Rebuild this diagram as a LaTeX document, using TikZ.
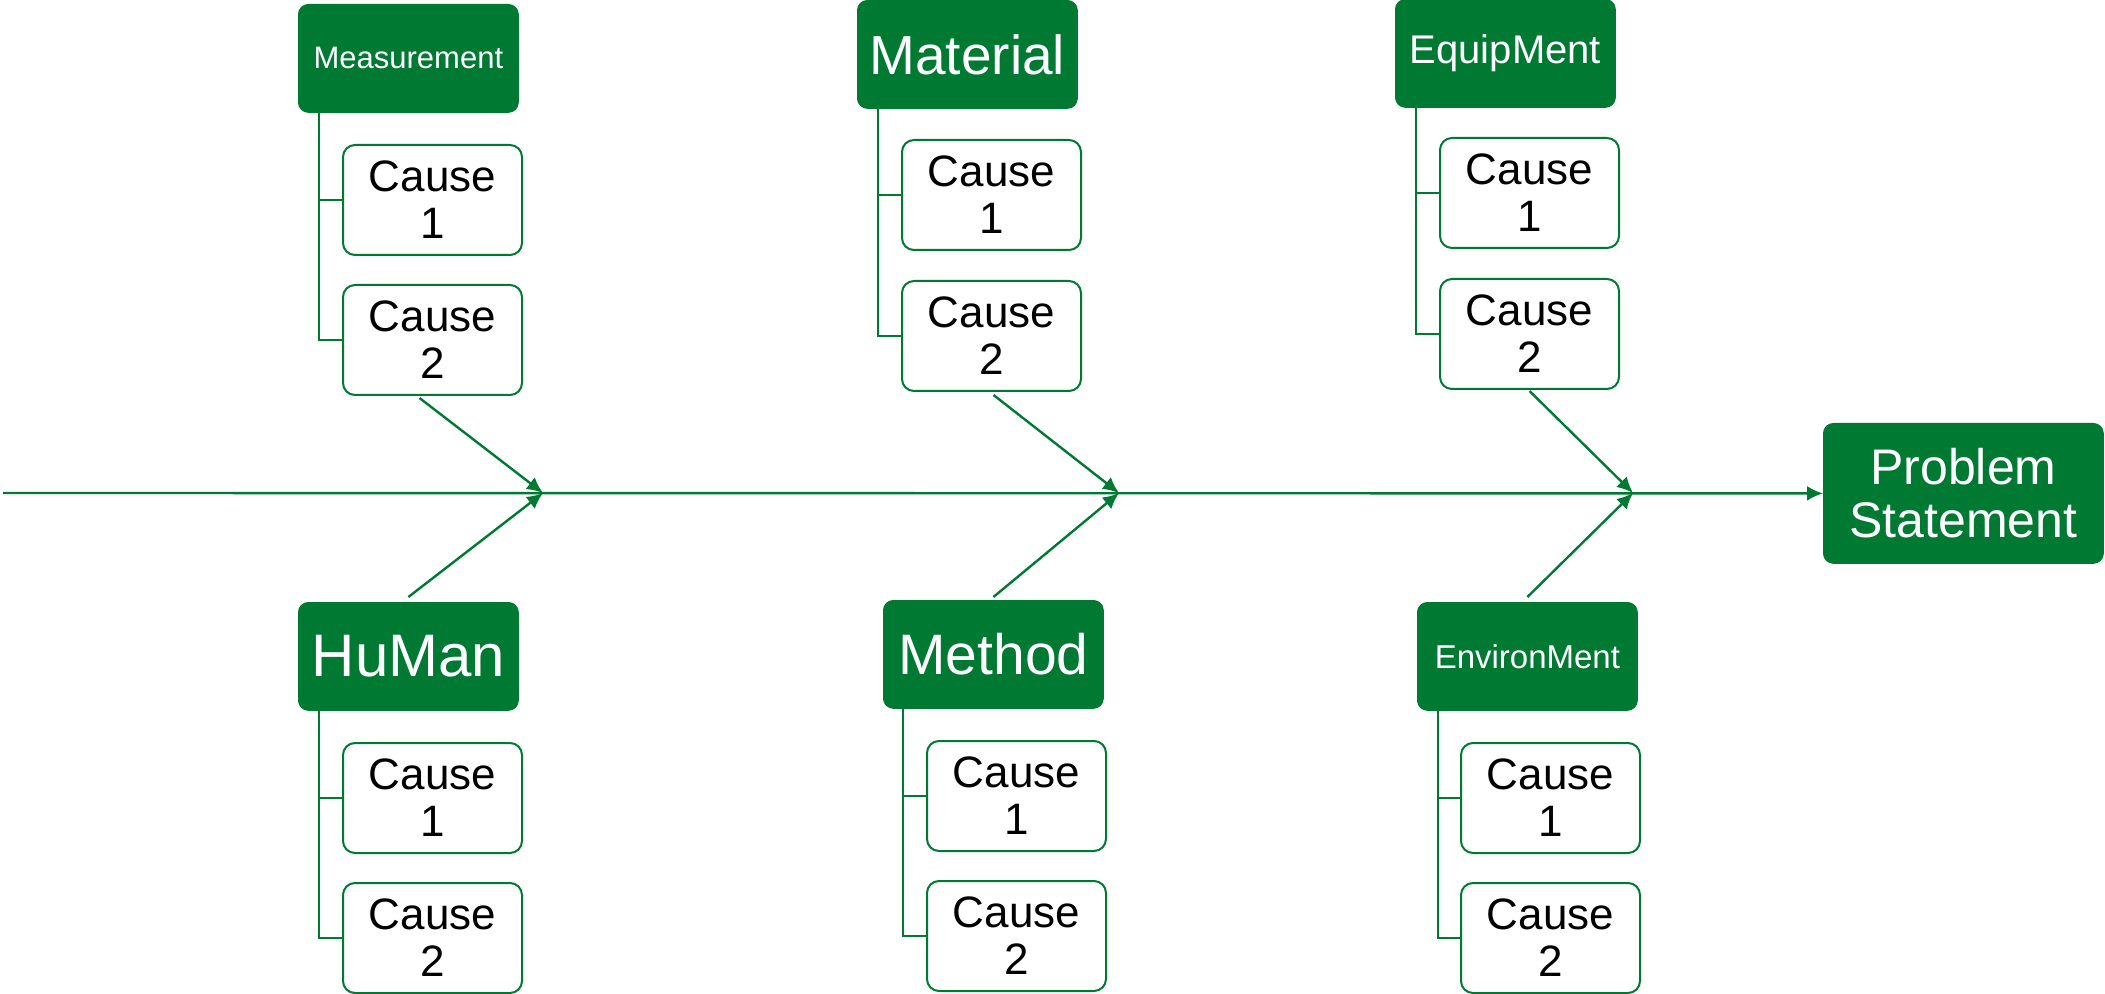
\documentclass[tikz,border=0pt]{standalone}
\usepackage{fontspec}
\setmainfont{Liberation Sans}
\usetikzlibrary{positioning,arrows.meta,calc}
\definecolor{fishgreen}{RGB}{0,122,51}
\tikzset{
category/.style={
  draw=fishgreen,
  fill=fishgreen,
  text=white,
  rounded corners=5pt,
  anchor=north west,
  minimum width=110pt,
  minimum height=54pt,
  inner sep=0pt,
  align=center
  },
cause/.style={
  draw=fishgreen,
  line width=1pt,
  fill=white,
  rounded corners=6pt,
  anchor=north west,
  minimum width=89.5pt,
  minimum height=55pt,
  inner sep=0pt,
  align=center,
  font=\fontsize{22}{23.5}\selectfont
  },
bone/.style={draw=fishgreen, line width=1.2pt, -{Latex[length=8pt,width=7.5pt]}},
stem/.style={draw=fishgreen, line width=1.1pt}
}

\begin{document}
\begin{tikzpicture}[x=0.5pt, y=-0.5pt]
  \useasboundingbox (0,0) rectangle (2105,994);

  % spine
  \coordinate (tail) at (3,493);
  \coordinate (j1) at (543,493);
  \coordinate (j2) at (1119,493);
  \coordinate (j3) at (1633,493);

  \node[category, minimum width=140pt, minimum height=70pt,
        font=\fontsize{25}{26.5}\selectfont] (problem) at (1823,423) {Problem\\Statement};

  \draw[bone] (tail) -- (problem.west);

  % upper categories
  \node[category, font=\fontsize{15.5}{18}\selectfont] (meas) at (298,4) {Measurement};
  \node[cause] (meas1) at (342,144) {Cause\\1};
  \node[cause] (meas2) at (342,284) {Cause\\2};

  \node[category, font=\fontsize{27.5}{30}\selectfont] (mater) at (857,0) {Material};
  \node[cause] (mater1) at (901,139) {Cause\\1};
  \node[cause] (mater2) at (901,280) {Cause\\2};

  \node[category, font=\fontsize{20}{23}\selectfont] (equip) at (1395,-1) {EquipMent};
  \node[cause] (equip1) at (1439,137) {Cause\\1};
  \node[cause] (equip2) at (1439,278) {Cause\\2};

  % lower categories
  \node[category, font=\fontsize{30}{33}\selectfont] (human) at (298,602) {HuMan};
  \node[cause] (human1) at (342,742) {Cause\\1};
  \node[cause] (human2) at (342,882) {Cause\\2};

  \node[category, font=\fontsize{28.5}{31}\selectfont] (method) at (883,600) {Method};
  \node[cause] (method1) at (926,740) {Cause\\1};
  \node[cause] (method2) at (926,880) {Cause\\2};

  \node[category, font=\fontsize{16.5}{19}\selectfont] (envir) at (1417,602) {EnvironMent};
  \node[cause] (envir1) at (1460,742) {Cause\\1};
  \node[cause] (envir2) at (1460,882) {Cause\\2};

  % brackets
  \draw[stem] ($(meas.south west)+(21,0)$) |- (meas2.west);
  \draw[stem] ($(meas.south west)+(21,0)$) |- (meas1.west);
  \draw[stem] ($(mater.south west)+(21,0)$) |- (mater2.west);
  \draw[stem] ($(mater.south west)+(21,0)$) |- (mater1.west);
  \draw[stem] ($(equip.south west)+(21,0)$) |- (equip2.west);
  \draw[stem] ($(equip.south west)+(21,0)$) |- (equip1.west);
  \draw[stem] ($(human.south west)+(21,0)$) |- (human2.west);
  \draw[stem] ($(human.south west)+(21,0)$) |- (human1.west);
  \draw[stem] ($(method.south west)+(20,0)$) |- (method2.west);
  \draw[stem] ($(method.south west)+(20,0)$) |- (method1.west);
  \draw[stem] ($(envir.south west)+(21,0)$) |- (envir2.west);
  \draw[stem] ($(envir.south west)+(21,0)$) |- (envir1.west);

  % bones
  \draw[bone] ($(meas2.south)+(-13,2)$) -- (j1);
  \draw[bone] ($(human.north)+(0,-5)$) -- (j1);
  \draw[bone] ($(mater2.south)+(2,3)$) -- (j2);
  \draw[bone] ($(method.north)+(0,-3)$) -- (j2);
  \draw[bone] ($(equip2.south)+(0,1)$) -- (j3);
  \draw[bone] ($(envir.north)+(0,-5)$) -- (j3);
\end{tikzpicture}
\end{document}
